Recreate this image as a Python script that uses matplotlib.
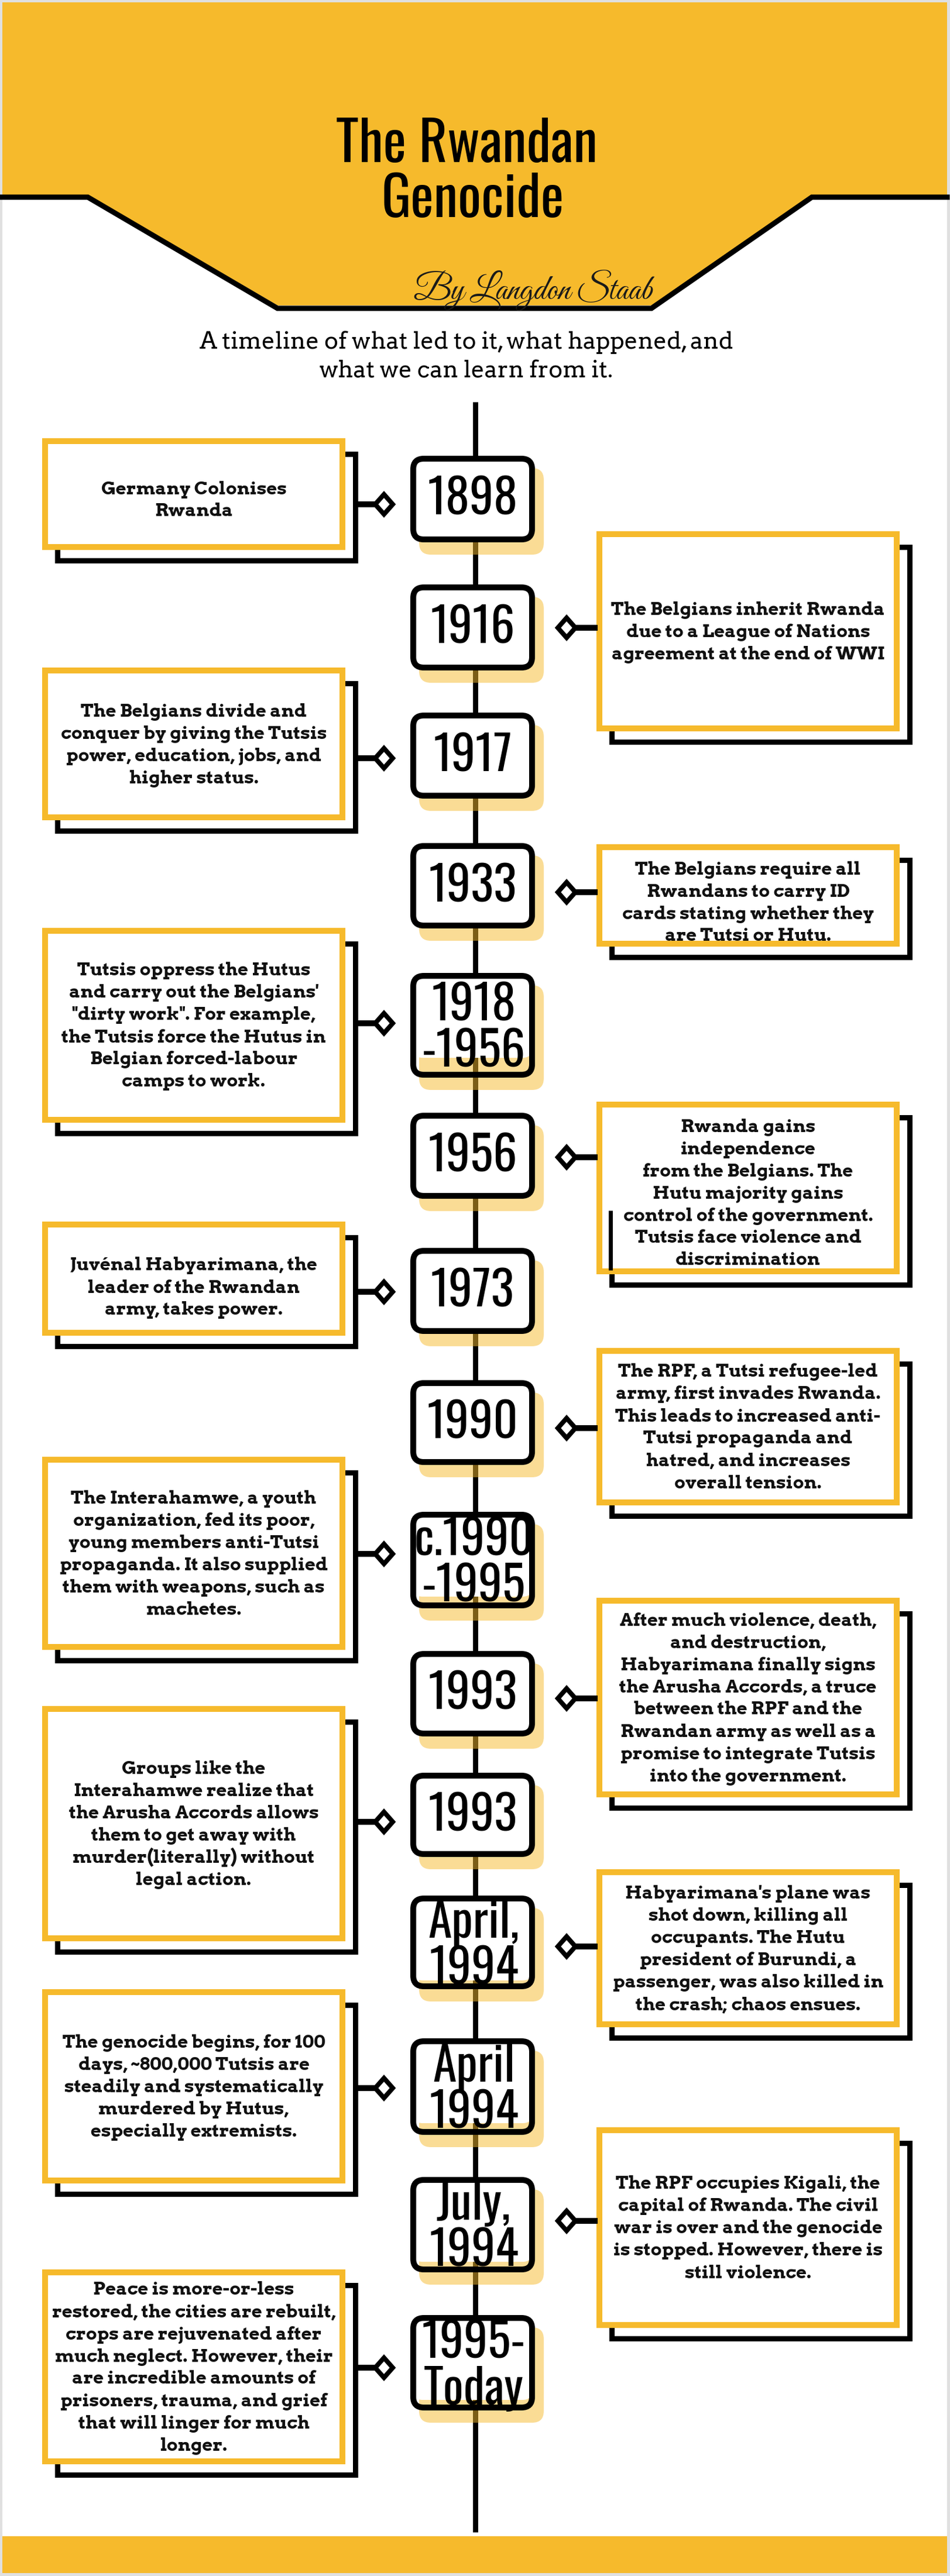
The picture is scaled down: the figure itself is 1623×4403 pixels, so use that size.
import matplotlib
matplotlib.use("Agg")
import matplotlib.pyplot as plt
from matplotlib import font_manager
from matplotlib.patches import Rectangle, FancyBboxPatch, Polygon

# canvas in pixels, drawn 1:1 on a single axes
W, H = 1623, 4403
DPI = 100
PT = 72.0 / DPI  # points per pixel

YELLOW = "#F6BA2C"
GREY = "#E0E0E0"

# ---- content -------------------------------------------------------------
title_lines = ["The Rwandan", "Genocide"]
byline = "By Langdon Staab"
subtitle_lines = [
    "A timeline of what led to it, what happened, and",
    "what we can learn from it.",
]

years = [
    "1898", "1916", "1917", "1933", "1918\n-1956", "1956", "1973", "1990",
    "c.1990\n-1995", "1993", "1993", "April,\n1994", "April\n1994",
    "July,\n1994", "1995-\nToday",
]

sides = ["L", "R", "L", "R", "L", "R", "L", "R", "L", "R", "L", "R", "L", "R", "L"]

events = [
    ["Germany Colonises", "Rwanda"],
    ["The Belgians inherit Rwanda", "due to a League of Nations",
     "agreement at the end of WWI"],
    ["The Belgians divide and", "conquer by giving the Tutsis",
     "power, education, jobs, and", "higher status."],
    ["The Belgians require all", "Rwandans to carry ID",
     "cards stating whether they", "are Tutsi or Hutu."],
    ["Tutsis oppress the Hutus", "and carry out the Belgians'",
     "\"dirty work\". For example,", "the Tutsis force the Hutus in",
     "Belgian forced-labour", "camps to work."],
    ["Rwanda gains", "independence", "from the Belgians. The",
     "Hutu majority gains", "control of the government.",
     "Tutsis face violence and", "discrimination"],
    ["Juvénal Habyarimana, the", "leader of the Rwandan",
     "army, takes power."],
    ["The RPF, a Tutsi refugee-led", "army, first invades Rwanda.",
     "This leads to increased anti-", "Tutsi propaganda and",
     "hatred, and increases", "overall tension."],
    ["The Interahamwe, a youth", "organization, fed its poor,",
     "young members anti-Tutsi", "propaganda. It also supplied",
     "them with weapons, such as", "machetes."],
    ["After much violence, death,", "and destruction,",
     "Habyarimana finally signs", "the Arusha Accords, a truce",
     "between the RPF and the", "Rwandan army as well as a",
     "promise to integrate Tutsis", "into the government."],
    ["Groups like the", "Interahamwe realize that",
     "the Arusha Accords allows", "them to get away with",
     "murder(literally) without", "legal action."],
    ["Habyarimana's plane was", "shot down, killing all",
     "occupants. The Hutu", "president of Burundi, a",
     "passenger, was also killed in", "the crash; chaos ensues."],
    ["The genocide begins, for 100", "days, ~800,000 Tutsis are",
     "steadily and systematically", "murdered by Hutus,",
     "especially extremists."],
    ["The RPF occupies Kigali, the", "capital of Rwanda. The civil",
     "war is over and the genocide", "is stopped. However, there is",
     "still violence."],
    ["Peace is more-or-less", "restored, the cities are rebuilt,",
     "crops are rejuvenated after", "much neglect. However, their",
     "are incredible amounts of", "prisoners, trauma, and grief",
     "that will linger for much", "longer."],
]

# ---- layout (pixel rows) ----------------------------
year_top = [779, 999, 1218, 1441, 1663, 1902, 2133, 2359, 2584, 2822,
            3030, 3240, 3484, 3721, 3957]
year_bottom = [927, 1146, 1365, 1587, 1842, 2049, 2280, 2504, 2749, 2968,
               3174, 3400, 3649, 3884, 4120]
event_top = [749, 908, 1141, 1443, 1586, 1883, 2088, 2304, 2490, 2731,
             2916, 3195, 3400, 3636, 3879]
event_bottom = [940, 1250, 1402, 1618, 1919, 2178, 2283, 2573, 2820, 3072,
                3318, 3465, 3732, 3979, 4212]
link_y = [862, 1073, 1296, 1525, 1749, 1978, 2208, 2441, 2656, 2903,
          3114, 3327, 3569, 3796, 4047]
text_shift = [9, 0, 0, 11, 0, 8, 14, 0, 0, 0, 0, 0, 0, 0, 0]

LEFT_X = (72, 590)
RIGHT_X = (1019, 1537)
YEAR_X = (701, 914)
LINE_X = 812

# ---- fonts ---------------------------------------------------------------
avail = {f.name for f in font_manager.fontManager.ttflist}


def pick(cands, default):
    for c in cands:
        if c in avail:
            return c
    return default


COND = pick(["Oswald", "Roboto Condensed", "Liberation Sans Narrow",
             "Open Sans Condensed"], "DejaVu Sans")
SLAB = pick(["Arvo", "DejaVu Serif"], "DejaVu Serif")
SCRIPT = pick(["Great Vibes", "Liberation Serif"], "DejaVu Serif")


def px(v):
    return v * PT


def frame(ax, x0, y0, x1, y1, lw, edge, face, z, rounding=0.0):
    """Stroked box given by its outer edges (pixels)."""
    h = lw / 2.0
    if rounding:
        p = FancyBboxPatch((x0 + h, y0 + h), x1 - x0 - lw, y1 - y0 - lw,
                           boxstyle=f"round,pad=0,rounding_size={rounding}",
                           linewidth=px(lw), edgecolor=edge, facecolor=face,
                           zorder=z)
    else:
        p = Rectangle((x0 + h, y0 + h), x1 - x0 - lw, y1 - y0 - lw,
                      linewidth=px(lw), edgecolor=edge, facecolor=face,
                      zorder=z, joinstyle="miter")
    ax.add_patch(p)


fig = plt.figure(figsize=(W / DPI, H / DPI), dpi=DPI)
fig.patch.set_facecolor(GREY)
ax = fig.add_axes([0, 0, 1, 1])
ax.set_xlim(0, W)
ax.set_ylim(H, 0)
ax.axis("off")

# white page inside a thin grey border
ax.add_patch(Rectangle((4, 4), W - 9, H - 9, facecolor="white",
                       edgecolor="none", zorder=0))

# ---- header band ----------------------------------------------------------
band = [(4, 4), (W - 5, 4), (W - 5, 333), (1387, 333), (1113, 522),
        (474, 522), (150, 333), (4, 333)]
ax.add_patch(Polygon(band, closed=True, facecolor=YELLOW, edgecolor="none",
                     zorder=1))
edge_x = [4, 150, 474, 1113, 1387, W - 5]
edge_y = [337, 337, 527, 527, 337, 337]
ax.plot(edge_x, edge_y, color="black", linewidth=px(9),
        solid_joinstyle="miter", zorder=2)

ax.text(797, 277, title_lines[0], ha="center", va="baseline",
        fontsize=px(94), family=COND, fontweight="bold",
        fontstretch="condensed", zorder=5)
ax.text(808, 371, title_lines[1], ha="center", va="baseline",
        fontsize=px(94), family=COND, fontweight="bold",
        fontstretch="condensed", zorder=5)
ax.text(911, 512, byline, ha="center", va="baseline", fontsize=px(60),
        family=SCRIPT, style="italic", color="#1a1a1a", zorder=5)
for line, yb in zip(subtitle_lines, [596, 645]):
    ax.text(797, yb, line, ha="center", va="baseline", fontsize=px(40),
            family=SLAB, zorder=5)

# bottom band
ax.add_patch(Rectangle((4, 4335), W - 9, 4398 - 4335, facecolor=YELLOW,
                       edgecolor="none", zorder=1))

# ---- timeline spine -------------------------------------------------------
ax.plot([LINE_X, LINE_X], [687, 4328], color="black", linewidth=px(9),
        solid_capstyle="butt", zorder=1)

# ---- year boxes -----------------------------------------------------------
for label, top, bot in zip(years, year_top, year_bottom):
    x0, x1 = YEAR_X
    # translucent yellow drop shadow
    ax.add_patch(FancyBboxPatch((x0 + 15, top + 21), x1 - x0, bot - top,
                                boxstyle="round,pad=0,rounding_size=20",
                                facecolor=YELLOW, edgecolor="none",
                                alpha=0.5, zorder=2))
    # white fill is fixed height, so tall boxes let the shadow show through
    fill_bot = min(bot, top + 150)
    ax.add_patch(FancyBboxPatch((x0 + 5, top + 5), x1 - x0 - 10,
                                fill_bot - top - 10,
                                boxstyle="round,pad=0,rounding_size=16",
                                facecolor="white", edgecolor="none",
                                zorder=3))
    frame(ax, x0, top, x1, bot, 10, "black", "none", 4, rounding=18)
    cy = (top + bot) / 2.0
    parts = label.split("\n")
    if len(parts) == 1:
        ax.text((x0 + x1) / 2.0, cy + 27, parts[0], ha="center",
                va="baseline", fontsize=px(82), family=COND,
                fontstretch="condensed", zorder=5)
    else:
        for part, dy in zip(parts, [-37, 42]):
            ax.text((x0 + x1) / 2.0 + 2, cy + dy + 29, part, ha="center",
                    va="baseline", fontsize=px(82), family=COND,
                    fontstretch="condensed", zorder=5)

# ---- event boxes and connectors ------------------------------------------
LINE_STEP = 38
for lines, side, top, bot, ly, shift in zip(events, sides, event_top,
                                            event_bottom, link_y, text_shift):
    x0, x1 = LEFT_X if side == "L" else RIGHT_X
    # black offset shadow frame, then the yellow framed card on top
    frame(ax, x0 + 21, top + 22, x1 + 21, bot + 22, 9, "black", "none", 2)
    frame(ax, x0, top, x1, bot, 10, YELLOW, "white", 3)

    if side == "L":
        bar = [x1 + 15, 642]
        cx = 656
    else:
        bar = [975, x0 + 2]
        cx = 968
    ax.plot(bar, [ly, ly], color="black", linewidth=px(10),
            solid_capstyle="butt", zorder=4)
    dia = [(cx, ly - 17), (cx + 15, ly), (cx, ly + 17), (cx - 15, ly)]
    ax.add_patch(Polygon(dia, closed=True, facecolor="white",
                         edgecolor="black", linewidth=px(8),
                         joinstyle="miter", zorder=5))

    cy = (top + bot) / 2.0 + shift
    n = len(lines)
    for i, line in enumerate(lines):
        yb = cy + (i - (n - 1) / 2.0) * LINE_STEP + 10
        ax.text((x0 + x1) / 2.0, yb, line, ha="center", va="baseline",
                fontsize=px(31), family=SLAB, fontweight="bold",
                color="#111111", zorder=6)

# stray shadow edge that shows through the 1956 card
ax.plot([1043, 1043], [2069, 2171], color="black", linewidth=px(7),
        solid_capstyle="butt", zorder=4)

fig.savefig("out.png", dpi=DPI, facecolor=fig.get_facecolor())
